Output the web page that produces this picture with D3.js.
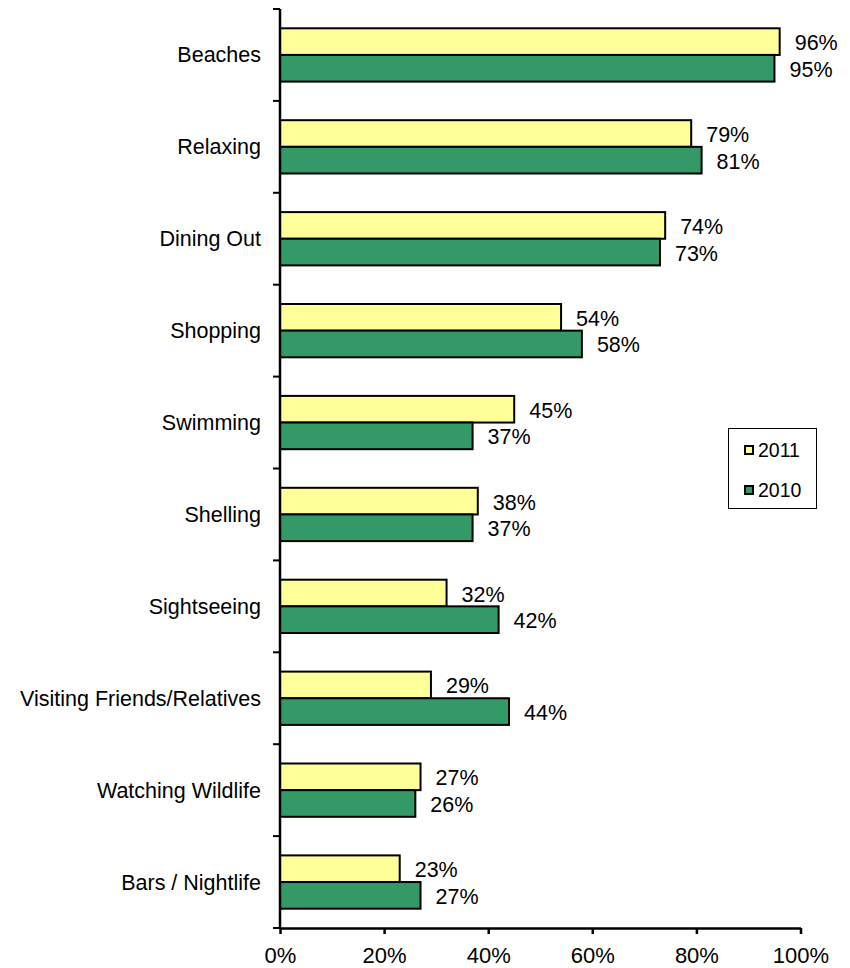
<!DOCTYPE html>
<html><head><meta charset="utf-8">
<script src="https://cdn.jsdelivr.net/npm/d3@7"></script>
<style>body{margin:0;background:#fff}svg{display:block}text{font-family:"Liberation Sans",Arial,sans-serif;fill:#000}</style>
</head><body>
<svg id="c" width="850" height="968"></svg>
<script>
const categories = ["Beaches","Relaxing","Dining Out","Shopping","Swimming","Shelling","Sightseeing","Visiting Friends/Relatives","Watching Wildlife","Bars / Nightlife"];
const values2011 = [96,79,74,54,45,38,32,29,27,23];
const values2010 = [95,81,73,58,37,37,42,44,26,27];
const seriesNames = ["2011","2010"];
const xTicks = [0,20,40,60,80,100];

const colors = {"2011":"#FFFF99","2010":"#339966"};
const svg = d3.select("#c");
const mLeft = 280, mRight = 800.5, mTop = 9, mBottom = 928;
const x = d3.scaleLinear().domain([0,100]).range([mLeft,mRight]);
const y = d3.scaleBand().domain(categories).range([mTop,mBottom]).paddingInner(0.42).paddingOuter(0.21);
const sub = d3.scaleBand().domain(seriesNames).range([0,y.bandwidth()]);

const data = seriesNames.map((s,i)=>({name:s, vals: i===0?values2011:values2010}));

data.forEach(s=>{
  const g = svg.append("g");
  g.selectAll("rect").data(categories).join("rect")
    .attr("x", x(0)).attr("y", c=>y(c)+sub(s.name))
    .attr("width", (c,i)=>x(s.vals[i])-x(0)).attr("height", sub.bandwidth())
    .attr("fill", colors[s.name]).attr("stroke","#000").attr("stroke-width",2);
  g.selectAll("text").data(categories).join("text")
    .attr("x",(c,i)=>x(s.vals[i])+15).attr("y", c=>y(c)+sub(s.name)+sub.bandwidth()/2+8.5)
    .attr("font-size",21.5).text((c,i)=>s.vals[i]+"%");
});

// y axis
const yb = d3.scaleLinear().domain([0,categories.length]).range([mTop,mBottom]);
svg.append("line").attr("x1",mLeft).attr("x2",mLeft).attr("y1",mTop).attr("y2",mBottom).attr("stroke","#000").attr("stroke-width",2.5);
svg.selectAll(".yt").data(d3.range(categories.length+1)).join("line")
  .attr("x1",mLeft-7).attr("x2",mLeft).attr("y1",d=>yb(d)).attr("y2",d=>yb(d)).attr("stroke","#000").attr("stroke-width",2);
svg.selectAll(".yl").data(categories).join("text")
  .attr("x",261).attr("y",c=>y(c)+y.bandwidth()/2+7.5).attr("text-anchor","end").attr("font-size",21.5).text(c=>c);

// x axis
const xa = svg.append("g").attr("transform",`translate(0,${mBottom})`)
  .call(d3.axisBottom(x).tickValues(xTicks).tickFormat(d=>d+"%").tickSize(6).tickSizeOuter(0));
xa.select(".domain").attr("stroke","#000").attr("stroke-width",2.5);
xa.selectAll(".tick line").attr("stroke","#000").attr("stroke-width",2.5);
xa.selectAll(".tick text").attr("font-size",22).attr("font-family","Liberation Sans, Arial, sans-serif")
  .attr("y",35).attr("dy",null).attr("fill","#000");

// legend
const lg = svg.append("g");
lg.append("rect").attr("x",728.5).attr("y",428.5).attr("width",88).attr("height",80).attr("fill","#fff").attr("stroke","#000").attr("stroke-width",1);
seriesNames.forEach((s,i)=>{
  const cy = 450 + i*40;
  lg.append("rect").attr("x",745).attr("y",cy-4).attr("width",8).attr("height",8).attr("fill",colors[s]).attr("stroke","#000").attr("stroke-width",2);
  lg.append("text").attr("x",758).attr("y",cy+6.7).attr("font-size",19.5).text(s);
});
</script>
</body></html>
